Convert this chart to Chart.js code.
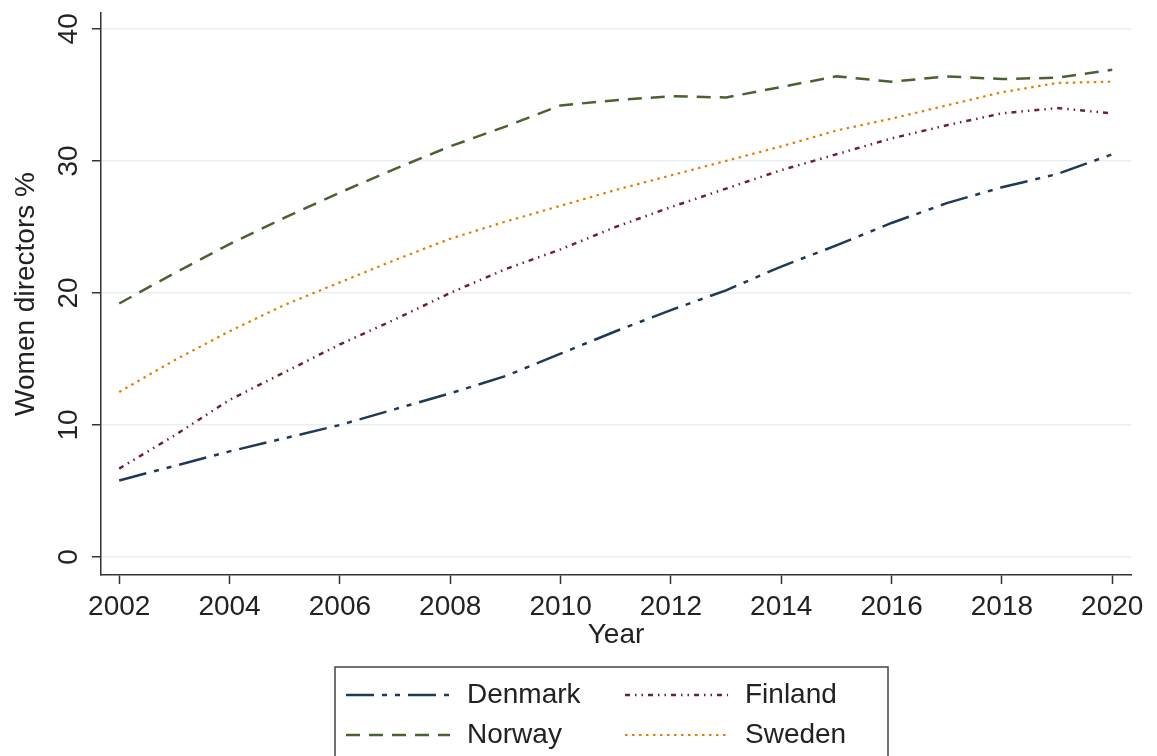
<!DOCTYPE html>
<html><head><meta charset="utf-8">
<script src="https://cdn.jsdelivr.net/npm/chart.js@4/dist/chart.umd.min.js"></script>
<style>html,body{margin:0;padding:0;background:#fff}</style>
</head><body>
<canvas id="c" width="1157" height="756"></canvas>
<script>
const years = [2002,2003,2004,2005,2006,2007,2008,2009,2010,2011,2012,2013,2014,2015,2016,2017,2018,2019,2020];
const denmark = [5.8,6.9,8.0,9.0,10.0,11.2,12.4,13.7,15.4,17.1,18.7,20.2,22.0,23.6,25.3,26.8,28.0,29.0,30.5];
const finland = [6.7,9.2,11.9,14.0,16.1,18.0,20.0,21.8,23.3,25.0,26.5,27.9,29.3,30.5,31.7,32.7,33.6,34.0,33.6];
const norway  = [19.2,21.5,23.7,25.7,27.6,29.4,31.1,32.6,34.2,34.6,34.9,34.8,35.6,36.4,36.0,36.4,36.2,36.3,36.9];
const sweden  = [12.5,14.9,17.1,19.1,20.8,22.5,24.1,25.4,26.6,27.8,28.9,30.0,31.1,32.3,33.2,34.2,35.2,35.9,36.0];
const seriesNames = ['Denmark','Finland','Norway','Sweden'];
const xTicks = [2002,2004,2006,2008,2010,2012,2014,2016,2018,2020];
const yTicks = [0,10,20,30,40];
const xTitle = 'Year';
const yTitle = 'Women directors %';

const FONT = {family:"'Liberation Sans', Arial, Helvetica, sans-serif", size:28};
const TXT = '#222';
const AX = '#333';

function pts(arr){ return years.map((y,i)=>({x:y, y:arr[i]})); }

const styles = [
  {color:'#1f3a56', dash:[28,8,5,8,5,8], w:2.5},
  {color:'#6e2229', dash:[5,5,1.5,5,1.5,5], w:2.5},
  {color:'#4a6233', dash:[14,9], w:2.5},
  {color:'#e37e00', dash:[2.5,4.5], w:2.2}
];
const values = [denmark, finland, norway, sweden];

const datasets = values.map((v,i)=>({
  label: seriesNames[i],
  data: pts(v),
  borderColor: styles[i].color,
  borderDash: styles[i].dash,
  borderWidth: styles[i].w,
  pointRadius: 0,
  tension: 0,
  fill: false
}));

const legendPlugin = {
  id:'stataLegend',
  afterDraw(chart){
    const ctx = chart.ctx;
    ctx.save();
    ctx.strokeStyle = '#444';
    ctx.lineWidth = 1.5;
    ctx.beginPath();
    ctx.moveTo(335, 760); ctx.lineTo(335, 667); ctx.lineTo(888, 667); ctx.lineTo(888, 760);
    ctx.stroke();
    const cols = [{x0:346,x1:450,tx:467},{x0:625,x1:728,tx:745}];
    const rows = [695, 735];
    chart.data.datasets.forEach((ds,i)=>{
      const c = cols[i%2], r = rows[Math.floor(i/2)];
      ctx.strokeStyle = ds.borderColor;
      ctx.lineWidth = ds.borderWidth;
      ctx.setLineDash(ds.borderDash);
      ctx.beginPath(); ctx.moveTo(c.x0, r); ctx.lineTo(c.x1, r); ctx.stroke();
      ctx.setLineDash([]);
      ctx.fillStyle = TXT;
      ctx.font = FONT.size + 'px ' + FONT.family;
      ctx.textAlign = 'left'; ctx.textBaseline = 'middle';
      ctx.fillText(ds.label, c.tx, r);
    });
    ctx.restore();
  }
};

new Chart(document.getElementById('c'), {
  type:'line',
  data:{datasets},
  options:{
    responsive:false, animation:false, devicePixelRatio:1,
    layout:{padding:{left:0,right:26,top:13,bottom:103}},
    plugins:{legend:{display:false}, tooltip:{enabled:false}},
    scales:{
      x:{
        type:'linear', min:2001.67, max:2020.34,
        afterBuildTicks:s=>{ s.ticks = xTicks.map(v=>({value:v})); },
        ticks:{callback:v=>String(v), font:FONT, color:TXT, padding:6, maxRotation:0, minRotation:0, autoSkip:false},
        grid:{drawOnChartArea:false, tickLength:9, tickColor:AX, tickWidth:1.5},
        border:{color:AX, width:1.5},
        title:{display:true, text:xTitle, font:FONT, color:TXT, padding:{top:0,bottom:1}},
        afterFit:s=>{ s.height = 78; s.paddingLeft = 0; s.paddingRight = 0; }
      },
      y:{
        type:'linear', min:-1.36, max:41.2,
        afterBuildTicks:s=>{ s.ticks = yTicks.map(v=>({value:v})); },
        ticks:{callback:v=>String(v), font:FONT, color:TXT, padding:7.5, minRotation:90, maxRotation:90, crossAlign:'center', autoSkip:false},
        grid:{color:'#eceff1', lineWidth:1.5, tickLength:9, tickColor:AX, tickWidth:1.5},
        border:{color:AX, width:1.5},
        title:{display:true, text:yTitle, font:FONT, color:TXT, padding:{top:9,bottom:0}},
        afterFit:s=>{ s.width = 101; s.paddingTop = 0; s.paddingBottom = 0; }
      }
    }
  },
  plugins:[legendPlugin]
});
</script>
</body></html>
